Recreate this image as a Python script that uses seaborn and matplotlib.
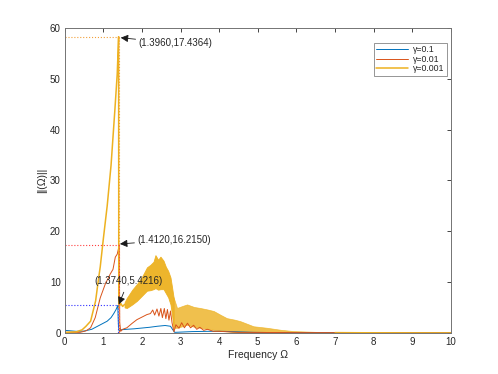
import numpy as np
import matplotlib
matplotlib.use('Agg')
import matplotlib.pyplot as plt
import seaborn as sns

# gamma = 0.1
blue_x = [0, 0.3, 0.5, 0.7, 0.85, 1.0, 1.1, 1.2, 1.27, 1.33, 1.374, 1.39, 1.41, 1.45,
          1.6, 1.8, 2.0, 2.2, 2.4, 2.6, 2.74, 2.8, 2.85, 3.0, 3.3, 3.7, 4.1, 4.5, 4.9,
          5.5, 7.0, 10.0]
blue_y = [0.5, 0.3, 0.35, 0.7, 1.3, 1.9, 2.3, 3.0, 3.8, 4.6, 5.4, 1.5, 0.3, 0.6,
          0.7, 0.8, 0.95, 1.1, 1.3, 1.45, 1.3, 0.6, 0.1, 0.15, 0.25, 0.3, 0.3, 0.2, 0.1,
          0.05, 0.02, 0.01]

# gamma = 0.01
red_x = [0, 0.4, 0.55, 0.67, 0.79, 0.92, 1.05, 1.18, 1.25, 1.31, 1.36, 1.39, 1.412,
         1.425, 1.45, 1.5, 1.61, 1.75, 1.87, 2.0, 2.13, 2.22, 2.28, 2.33, 2.39, 2.44,
         2.49, 2.53, 2.58, 2.62, 2.66, 2.70, 2.74, 2.78, 2.83, 2.88, 2.96, 3.03, 3.1,
         3.18, 3.26, 3.34, 3.42, 3.5, 3.6, 3.7, 3.85, 4.0, 4.5, 6.0, 10.0]
red_y = [0.1, 0.1, 0.4, 1.0, 3.0, 6.9, 9.6, 11.6, 12.5, 14.9, 15.5, 16.5, 17.3,
         2.0, 0.3, 0.7, 1.0, 1.9, 2.6, 3.1, 3.6, 3.8, 4.5, 3.5, 4.7, 3.3,
         4.8, 3.0, 4.8, 2.8, 4.6, 2.5, 4.3, 2.0, 0.2, 1.6, 0.9, 2.0, 1.0,
         1.9, 1.0, 1.5, 0.7, 1.1, 0.5, 0.7, 0.3, 0.3, 0.1, 0.05, 0.02]

# gamma = 0.001 (smooth part)
yel_x = [0, 0.3, 0.45, 0.55, 0.67, 0.8, 0.88, 0.92, 1.0, 1.1, 1.2, 1.3, 1.36, 1.396,
         1.40, 1.45, 1.5, 1.55]
yel_y = [0.1, 0.2, 0.6, 1.3, 2.3, 6.3, 10.9, 13.0, 18.5, 25.0, 33.0, 44.0, 51.0, 58.3,
         5.0, 5.8, 5.2, 5.6]
# gamma = 0.001 (dense oscillating part, envelopes)
band1_x = [1.55, 1.61, 1.75, 1.87, 2.0, 2.13, 2.22, 2.3, 2.35, 2.42, 2.48, 2.56,
           2.62, 2.68, 2.74, 2.78, 2.82]
band1_hi = [6.0, 6.9, 8.5, 9.6, 11.0, 12.9, 13.4, 14.0, 15.3, 14.4, 15.0, 14.2,
            13.0, 12.2, 10.9, 9.0, 7.0]
band1_lo = [5.0, 4.9, 5.6, 6.3, 7.3, 8.3, 8.4, 8.6, 8.8, 8.5, 8.6, 8.6,
            7.8, 7.0, 5.6, 3.5, 1.0]
band2_x = [2.82, 2.91, 3.05, 3.17, 3.35, 3.51, 3.7, 3.86, 4.05, 4.2, 4.4, 4.55,
           4.89, 5.24, 5.6, 5.93, 6.5, 7.0]
band2_hi = [7.0, 4.9, 5.3, 5.6, 5.1, 4.9, 4.6, 4.3, 3.5, 2.9, 2.6, 2.3,
            1.3, 1.0, 0.6, 0.35, 0.2, 0.12]
band2_lo = [1.0, 1.0, 1.3, 1.6, 1.2, 1.0, 0.8, 0.6, 0.4, 0.3, 0.15, 0.05,
            0.0, 0.0, 0.0, 0.0, 0.0, 0.0]
tail_x = [7.0, 8.0, 9.0, 10.0]
tail_y = [0.1, 0.06, 0.04, 0.03]

# peaks and annotation labels
peak_x = [1.374, 1.412, 1.396]
peak_y = [5.4, 17.3, 58.3]
peak_text = ['(1.3740,5.4216)', '(1.4120,16.2150)', '(1.3960,17.4364)']

c_blue = '#0072BD'
c_red = '#D95319'
c_yel = '#EDB120'

sns.set_theme(style='white')
plt.rcParams['font.family'] = ['Liberation Sans', 'DejaVu Sans']

fig = plt.figure(figsize=(4.98, 3.74), dpi=100)
ax = fig.add_axes([0.13, 0.11, 0.775, 0.815])

sns.lineplot(x=blue_x, y=blue_y, ax=ax, color=c_blue, lw=0.7, sort=False,
             estimator=None, label='γ=0.1')
sns.lineplot(x=red_x, y=red_y, ax=ax, color=c_red, lw=0.7, sort=False,
             estimator=None, label='γ=0.01')
sns.lineplot(x=yel_x, y=yel_y, ax=ax, color=c_yel, lw=1.1, sort=False,
             estimator=None, label='γ=0.001')
ax.fill_between(band1_x, band1_lo, band1_hi, color=c_yel, lw=0.6, alpha=0.95)
ax.fill_between(band2_x, band2_lo, band2_hi, color=c_yel, lw=0.5, alpha=0.8)
ax.plot(tail_x, tail_y, color=c_yel, lw=0.7)

# dotted guide lines
dot_cols = ['#3030FF', '#FF4040', '#F2A03A']
for px, py, dc in zip(peak_x, peak_y, dot_cols):
    ax.plot([0, px], [py, py], ls=':', color=dc, lw=0.8)
    ax.plot([px, px], [py, 0], ls=':', color=dc, lw=0.8)

arrow = dict(arrowstyle='-|>', color='k', lw=0.6, mutation_scale=11,
             shrinkA=0, shrinkB=0)
ax.annotate(peak_text[2], xy=(1.45, 58.1), xytext=(1.92, 57.0), fontsize=7,
            va='center', ha='left', arrowprops=arrow)
ax.annotate(peak_text[1], xy=(1.43, 17.5), xytext=(1.89, 18.3), fontsize=7,
            va='center', ha='left', arrowprops=arrow)
ax.annotate(peak_text[0], xy=(1.40, 5.6), xytext=(1.64, 10.2), fontsize=7,
            va='center', ha='center')
ax.annotate('', xy=(1.40, 5.6), xytext=(1.53, 8.0), arrowprops=arrow)

ax.set_xlim(0, 10)
ax.set_ylim(0, 60)
ax.set_xticks(range(0, 11))
ax.set_yticks(range(0, 61, 10))
ax.tick_params(direction='in', length=3, width=0.6, labelsize=7, top=True,
               right=True, colors='0.15', pad=3)
for s in ax.spines.values():
    s.set_color('0.45')
    s.set_linewidth(0.7)
ax.set_xlabel('Frequency Ω', fontsize=7.5, labelpad=2)
ax.set_ylabel('||(Ω)||', fontsize=7.5, labelpad=2)

leg = ax.legend(loc='upper right', bbox_to_anchor=(0.99, 0.95), fontsize=6.3,
                frameon=True, fancybox=False, edgecolor='0.4', handlelength=3.6,
                handletextpad=0.6, borderpad=0.25, labelspacing=0.05,
                borderaxespad=0)
leg.get_frame().set_linewidth(0.6)

fig.savefig('out.png', dpi=100)
